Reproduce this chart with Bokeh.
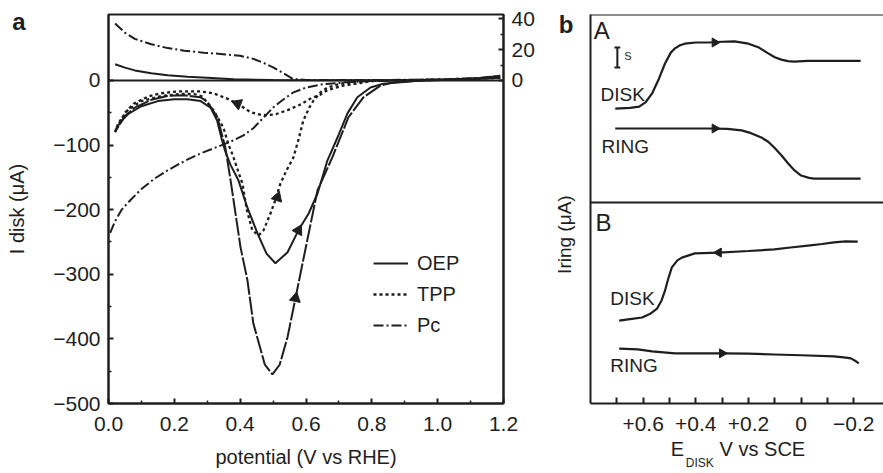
from bokeh.plotting import figure
from bokeh.layouts import row
from bokeh.models import (Range1d, LinearAxis, FixedTicker, Span, Label, Legend,
                          LegendItem, PrintfTickFormatter)
from bokeh.embed import file_html
from bokeh.resources import INLINE

FONT = "Liberation Sans"
INK = "#1e1e1e"

# ---------------- panel a data ----------------
x_ticks_a = [0.0, 0.2, 0.4, 0.6, 0.8, 1.0, 1.2]
y_ticks_a = [-500, -400, -300, -200, -100, 0]
ring_ticks_a = [0, 20, 40]

# ring currents (right axis)
oep_ring_x = [0.02, 0.05, 0.08, 0.13, 0.18, 0.24, 0.30, 0.38, 0.5, 0.7, 0.9, 1.05, 1.13, 1.19]
oep_ring_y = [10.5, 8.3, 6.5, 4.6, 3.3, 2.4, 1.7, 0.7, 0.2, 0.1, 0.2, 0.6, 1.4, 3.0]
pc_ring_x = [0.02, 0.05, 0.08, 0.13, 0.18, 0.23, 0.29, 0.34, 0.40, 0.44, 0.47, 0.50, 0.53, 0.56, 0.60, 0.8, 1.0, 1.12, 1.19]
pc_ring_y = [37, 31, 27, 23.5, 21, 19.3, 18, 17.2, 16, 14, 11.5, 8.5, 4.8, 1.0, 0.2, 0.2, 0.6, 1.5, 3.0]

# disk currents (left axis)
oep_x = [1.19, 1.05, 0.95, 0.835, 0.796, 0.756, 0.726, 0.696, 0.665, 0.635, 0.608, 0.577, 0.544, 0.507,
         0.48, 0.453, 0.422, 0.395, 0.37, 0.355, 0.345, 0.33, 0.31, 0.28, 0.24, 0.20, 0.15, 0.10, 0.06, 0.035, 0.02]
oep_y = [4, 1, 0, -5, -11, -26, -51, -88, -124, -175, -206, -232, -266, -283,
         -268, -237, -197, -155, -130, -110, -93, -62, -42, -32, -29, -29, -32, -40, -52, -65, -78]
deep_x = [1.19, 1.05, 0.95, 0.866, 0.826, 0.775, 0.729, 0.68, 0.635, 0.604, 0.568, 0.544, 0.52, 0.498, 0.475,
          0.44, 0.422, 0.401, 0.371, 0.355, 0.34, 0.331, 0.30, 0.279, 0.23, 0.179, 0.13, 0.08, 0.05, 0.027, 0.02]
deep_y = [4, 1, 0, -3, -8, -26, -57, -119, -170, -247, -337, -397, -440, -455, -440,
          -376, -309, -258, -155, -104, -75, -57, -33, -26, -23, -24, -30, -42, -55, -74, -80]
tpp_x = [1.19, 0.9, 0.8, 0.765, 0.714, 0.665, 0.644, 0.614, 0.58, 0.544, 0.51, 0.483, 0.46, 0.431, 0.392, 0.36,
         0.319, 0.279, 0.21, 0.158, 0.12, 0.076, 0.05, 0.027, 0.02,
         0.03, 0.06, 0.10, 0.16, 0.22, 0.26, 0.285, 0.319, 0.349, 0.365, 0.377, 0.39, 0.407, 0.42, 0.437, 0.456,
         0.471, 0.492, 0.507, 0.522, 0.54, 0.562, 0.578, 0.592, 0.61, 0.623, 0.645, 0.665, 0.705, 0.765, 0.9, 1.19]
tpp_y = [4, 0, -1, -4, -8, -15, -22, -28, -38, -46, -52, -54, -53, -49, -36, -28,
         -20, -17, -17, -20, -25, -36, -50, -72, -80,
         -66, -45, -32, -24, -21, -21, -25, -46, -73, -100, -115, -135, -160, -200, -232, -240,
         -232, -206, -185, -160, -140, -119, -90, -62, -42, -31, -18, -11, -5, -1, 0, 4]
pc_x = [0.005, 0.02, 0.04, 0.067, 0.10, 0.14, 0.18, 0.23, 0.28, 0.33, 0.37, 0.41, 0.44, 0.47, 0.50, 0.53,
        0.56, 0.60, 0.65, 0.72, 0.80, 0.95, 1.1, 1.19]
pc_y = [-236, -218, -200, -185, -168, -152, -139, -125, -113, -103, -95, -85, -74, -58, -42, -30,
        -19, -11, -6, -3, -1, 0, 2, 5]

# sweep-direction arrows on panel a
arrow_a_x = [0.392, 0.513, 0.577, 0.568]
arrow_a_y = [-36, -181, -232, -337]
arrow_a_angle = [1.2, -0.32, -0.5, -0.2]

# ---------------- panel b data ----------------
x_ticks_b = [0.6, 0.4, 0.2, 0.0, -0.2]
x_minor_b = [0.7, 0.5, 0.3, 0.1, -0.1]
x_labels_b = ["+0.6", "+0.4", "+0.2", "0", "\u22120.2"]

a_disk_x = [0.706, 0.65, 0.615, 0.59, 0.566, 0.54, 0.517, 0.495, 0.479, 0.46, 0.442, 0.40, 0.351, 0.30,
            0.253, 0.20, 0.16, 0.125, 0.10, 0.075, 0.05, 0.026, -0.026, -0.10, -0.226]
a_disk_y = [75.8, 76.0, 76.3, 77.5, 79.7, 83.5, 87.4, 90.2, 91.3, 92.1, 92.5, 92.8, 92.8, 93.0,
            93.1, 92.5, 91.5, 90.0, 89.0, 88.4, 88.0, 87.9, 88.1, 88.1, 88.1]
a_ring_x = [0.706, 0.55, 0.351, 0.28, 0.226, 0.19, 0.151, 0.125, 0.102, 0.075, 0.049, 0.025, 0.0,
            -0.03, -0.049, -0.1, -0.226]
a_ring_y = [70.7, 70.7, 70.7, 70.6, 70.2, 69.5, 68.4, 67.3, 65.8, 63.8, 61.7, 59.9, 58.6,
            58.0, 57.8, 57.8, 57.8]
b_disk_x = [0.691, 0.65, 0.604, 0.575, 0.547, 0.53, 0.517, 0.505, 0.491, 0.47, 0.453, 0.404, 0.313,
            0.2, 0.102, 0.04, -0.026, -0.08, -0.125, -0.17, -0.215]
b_disk_y = [21.3, 21.7, 22.1, 23.0, 24.4, 26.5, 29.0, 32.0, 35.0, 36.8, 37.5, 38.6, 38.8,
            39.2, 39.6, 40.1, 40.6, 41.0, 41.4, 41.7, 41.6]
b_ring_x = [0.691, 0.62, 0.566, 0.479, 0.40, 0.302, 0.2, 0.102, 0.0, -0.125, -0.17, -0.189, -0.205, -0.219]
b_ring_y = [14.1, 13.9, 13.4, 12.9, 12.9, 12.9, 12.8, 12.6, 12.4, 12.1, 11.8, 11.6, 11.0, 10.3]

arrow_b_x = [0.328, 0.328, 0.313, 0.30]
arrow_b_y = [92.8, 70.7, 38.8, 12.9]
arrow_b_angle = [-1.5708, -1.5708, 1.5708, -1.5708]

TICK_FS = "21px"


def lab(p, x, y, text, size, align="left", baseline="middle", angle=0.0, style="normal"):
    p.add_layout(Label(x=x, y=y, text=text, text_font=FONT, text_font_size=f"{size}px",
                       text_align=align, text_baseline=baseline, angle=angle,
                       text_font_style=style, text_color=INK))


def text_axis(ticks, labels, size, standoff, style="normal", orientation="horizontal"):
    """An axis with no line or tick marks, used only to write texts outside the frame."""
    ax = LinearAxis(ticker=FixedTicker(ticks=ticks))
    ax.major_label_overrides = {t: s for t, s in zip(ticks, labels)}
    ax.axis_line_color = None
    ax.major_tick_line_color = None
    ax.minor_tick_line_color = None
    ax.major_tick_in = 0
    ax.major_tick_out = 0
    ax.major_label_standoff = standoff
    ax.major_label_orientation = orientation
    ax.major_label_text_font = FONT
    ax.major_label_text_font_size = f"{size}px"
    ax.major_label_text_font_style = style
    ax.major_label_text_color = INK
    return ax


# =============== panel a ===============
pa = figure(width=540, height=473, min_border_left=108, min_border_right=37,
            min_border_top=14, min_border_bottom=70, x_range=Range1d(0, 1.2),
            y_range=Range1d(-500, 102), output_backend="svg", toolbar_location=None)
pa.grid.visible = False
pa.outline_line_color = INK
pa.outline_line_width = 2
pa.extra_y_ranges = {"ring": Range1d(-500 * 0.42, 102 * 0.42)}

xa = pa.xaxis[0]
xa.ticker = FixedTicker(ticks=x_ticks_a, minor_ticks=[0.1, 0.3, 0.5, 0.7, 0.9, 1.1])
xa.formatter = PrintfTickFormatter(format="%.1f")
xa.axis_label = "potential (V vs RHE)"

ya = pa.yaxis[0]
ya.ticker = FixedTicker(ticks=y_ticks_a, minor_ticks=[-450, -350, -250, -150, -50])
ya.major_label_overrides = {v: (str(v).replace("-", "\u2212")) for v in y_ticks_a}
ya.axis_label = "I disk (\u03bcA)"

ra = LinearAxis(y_range_name="ring", ticker=FixedTicker(ticks=ring_ticks_a, minor_ticks=[10, 30]))
pa.add_layout(ra, "right")

for ax in (xa, ya, ra):
    ax.major_tick_in = 5
    ax.major_tick_out = 0
    ax.minor_tick_in = 3
    ax.minor_tick_out = 0
    ax.major_tick_line_color = INK
    ax.minor_tick_line_color = INK
    ax.major_tick_line_width = 2
    ax.minor_tick_line_width = 1.5
    ax.axis_line_color = INK
    ax.axis_line_width = 2
    ax.major_label_text_font = FONT
    ax.major_label_text_font_size = TICK_FS
    ax.major_label_text_color = INK
    ax.major_label_standoff = 8
    ax.axis_label_text_font = FONT
    ax.axis_label_text_font_size = "20px"
    ax.axis_label_text_font_style = "normal"
    ax.axis_label_text_color = INK

xa.major_label_standoff = 13
xa.axis_label_standoff = 12
ya.axis_label_standoff = 22

# panel letter "a" (written by a bare axis outside the first one)
pa.add_layout(text_axis([90.6], ["a"], 24, -22, style="bold"), "left")

pa.add_layout(Span(location=0, dimension="width", line_color=INK, line_width=2))

LW = 2
pa.line(oep_ring_x, oep_ring_y, y_range_name="ring", line_color=INK, line_width=LW)
pa.line(pc_ring_x, pc_ring_y, y_range_name="ring", line_color=INK, line_width=LW, line_dash="10 3 2 3")
r_deep = pa.line(deep_x, deep_y, line_color=INK, line_width=LW, line_dash="18 2")
r_oep = pa.line(oep_x, oep_y, line_color=INK, line_width=LW)
r_tpp = pa.line(tpp_x, tpp_y, line_color=INK, line_width=LW + 0.3, line_dash="3 3")
r_pc = pa.line(pc_x, pc_y, line_color=INK, line_width=LW, line_dash="10 3 2 3")
pa.scatter(arrow_a_x, arrow_a_y, marker="triangle", size=11, angle=arrow_a_angle,
           fill_color=INK, line_color=INK)

leg = Legend(items=[LegendItem(label="OEP", renderers=[r_oep]),
                    LegendItem(label="TPP", renderers=[r_tpp]),
                    LegendItem(label="Pc", renderers=[r_pc])],
             location=(265, 66), background_fill_alpha=0, border_line_color=None,
             label_text_font=FONT, label_text_font_size="20px", label_text_color=INK,
             glyph_width=35, glyph_height=24, label_height=24, spacing=7, padding=0, margin=0,
             label_standoff=9)
pa.add_layout(leg)

# =============== panel b ===============
pb = figure(width=343, height=473, min_border_left=48, min_border_right=0,
            min_border_top=14, min_border_bottom=70, x_range=Range1d(0.8, -0.313),
            y_range=Range1d(0, 100), output_backend="svg", toolbar_location=None)
pb.grid.visible = False
pb.outline_line_color = None

xb = pb.xaxis[0]
xb.ticker = FixedTicker(ticks=x_ticks_b, minor_ticks=x_minor_b)
xb.major_label_overrides = {t: s for t, s in zip(x_ticks_b, x_labels_b)}
xb.major_tick_in = 6
xb.major_tick_out = 0
xb.minor_tick_in = 6
xb.minor_tick_out = 0
xb.major_tick_line_color = INK
xb.minor_tick_line_color = INK
xb.major_tick_line_width = 2
xb.minor_tick_line_width = 2
xb.axis_line_color = INK
xb.axis_line_width = 2
xb.major_label_text_font = FONT
xb.major_label_text_font_size = TICK_FS
xb.major_label_text_color = INK
xb.major_label_standoff = 13

# left axis: plain line with the panel letter "b" as its only label
yb = pb.yaxis[0]
yb.ticker = FixedTicker(ticks=[97.4])
yb.major_label_overrides = {97.4: "b"}
yb.major_label_text_font = FONT
yb.major_label_text_font_size = "24px"
yb.major_label_text_font_style = "bold"
yb.major_label_text_color = INK
yb.major_label_standoff = 17
yb.major_tick_line_color = None
yb.minor_tick_line_color = None
yb.major_tick_in = 0
yb.major_tick_out = 0
yb.axis_line_color = INK
yb.axis_line_width = 2

# "Iring (uA)" title, written as a vertical label of a bare axis
pb.add_layout(text_axis([53.5], ["Iring (\u03bcA)"], 19, -9, orientation=1.5708), "left")

# x title "E_DISK V vs SCE" written by two bare axes below the tick labels
pb.add_layout(text_axis([0.470, 0.147], ["E", "V vs SCE"], 20, 4), "below")
pb.add_layout(text_axis([0.385], ["DISK"], 12, -7), "below")

pb.add_layout(Span(location=100, dimension="width", line_color=INK, line_width=2))
pb.add_layout(Span(location=51.7, dimension="width", line_color=INK, line_width=2))

for xs, ys in ((a_disk_x, a_disk_y), (a_ring_x, a_ring_y), (b_disk_x, b_disk_y), (b_ring_x, b_ring_y)):
    pb.line(xs, ys, line_color=INK, line_width=2.2)
pb.scatter(arrow_b_x, arrow_b_y, marker="triangle", size=9, angle=arrow_b_angle,
           fill_color=INK, line_color=INK)

# scale bar
pb.segment(x0=[0.698, 0.709, 0.709], y0=[91.5, 91.5, 86.4], x1=[0.698, 0.687, 0.687], y1=[86.4, 91.5, 86.4],
           line_color=INK, line_width=2)
lab(pb, 0.672, 89.3, "S", 11)

lab(pb, 0.757, 95.9, "A", 24, align="center")
lab(pb, 0.751, 46.5, "B", 24, align="center")
lab(pb, 0.762, 79.4, "DISK", 19)
lab(pb, 0.758, 66.1, "RING", 19)
lab(pb, 0.725, 27.0, "DISK", 19)
lab(pb, 0.725, 9.8, "RING", 19)

page = row(pa, pb)
open("out.html", "w").write(file_html(page, INLINE))
